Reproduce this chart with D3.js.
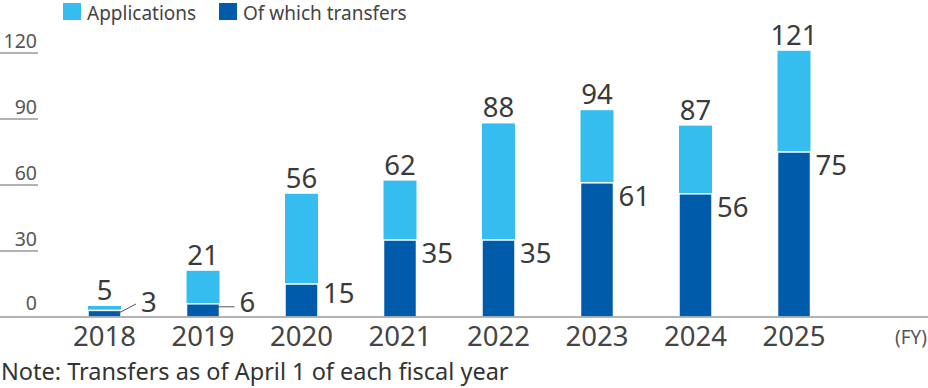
<html lang="en">
<head>
<meta charset="utf-8">
<title>Applications and transfers</title>
<script src="https://d3js.org/d3.v7.min.js"></script>
<style>
  body { margin: 0; background: #fff; }
  text { font-family: "Noto Sans", sans-serif; }
</style>
</head>
<body>
<div id="chart"></div>
<script>
// data
var years = ["2018", "2019", "2020", "2021", "2022", "2023", "2024", "2025"];
var applications = [5, 21, 56, 62, 88, 94, 87, 121];
var transfers = [3, 6, 15, 35, 35, 61, 56, 75];
var yTicks = [0, 30, 60, 90, 120];
var legendLabels = ["Applications", "Of which transfers"];

var W = 928, H = 388;
var lightBlue = "#36bdef", darkBlue = "#005bab";

var svg = d3.select("#chart").append("svg")
  .attr("width", W).attr("height", H);

var x = d3.scaleBand()
  .domain(years)
  .range([88, 88 + 7 * 98.5 + 33])
  .paddingInner(0.665)
  .paddingOuter(0);

var y = d3.scaleLinear()
  .domain([0, 120])
  .range([317, 53]);

// y ticks: short rules with labels above them
var yt = svg.append("g");
yt.selectAll("line").data(yTicks.filter(function(d) { return d > 0; }))
  .enter().append("line")
  .attr("x1", 0).attr("x2", 38)
  .attr("y1", function(d) { return y(d); })
  .attr("y2", function(d) { return y(d); })
  .attr("stroke", "#9a9a9a").attr("stroke-width", 1.5);
yt.selectAll("text").data(yTicks)
  .enter().append("text")
  .attr("x", 37)
  .attr("y", function(d) { return y(d) - (d === 0 ? 7 : 5); })
  .attr("text-anchor", "end")
  .attr("font-size", 19.5)
  .attr("fill", "#555")
  .text(function(d) { return d; });

// bars: total applications behind, transfers on top
var rows = years.map(function(yr, i) {
  return { year: yr, app: applications[i], tr: transfers[i], i: i };
});

svg.selectAll("rect.app").data(rows)
  .enter().append("rect")
  .attr("class", "app")
  .attr("x", function(d) { return x(d.year); })
  .attr("y", function(d) { return y(d.app); })
  .attr("width", x.bandwidth())
  .attr("height", function(d) { return y(0) - y(d.app); })
  .attr("fill", lightBlue);

svg.selectAll("rect.tr").data(rows)
  .enter().append("rect")
  .attr("class", "tr")
  .attr("x", function(d) { return x(d.year); })
  .attr("y", function(d) { return y(d.tr); })
  .attr("width", x.bandwidth())
  .attr("height", function(d) { return y(0) - y(d.tr); })
  .attr("fill", darkBlue)
  .attr("stroke", "#fff").attr("stroke-width", 1.5);

// baseline
svg.append("line")
  .attr("x1", 0).attr("x2", W)
  .attr("y1", y(0)).attr("y2", y(0))
  .attr("stroke", "#9a9a9a").attr("stroke-width", 1.5);

// application labels
svg.selectAll("text.appl").data(rows)
  .enter().append("text")
  .attr("x", function(d) { return x(d.year) + x.bandwidth() / 2; })
  .attr("y", function(d) { return y(d.app) - 6; })
  .attr("text-anchor", "middle")
  .attr("font-size", 27.5)
  .attr("fill", "#3a3a3a")
  .text(function(d) { return d.app; });

// transfer labels, with leader lines for the two small ones
function trX(d) { return x(d.year) + x.bandwidth() + (d.i < 2 ? 20 : 5); }
function trY(d) { return d.i < 2 ? y(0) - 5 : Math.min(y(d.tr) + 23, y(0) - 14); }

svg.selectAll("text.trl").data(rows)
  .enter().append("text")
  .attr("x", trX)
  .attr("y", trY)
  .attr("font-size", 27.5)
  .attr("fill", "#3a3a3a")
  .text(function(d) { return d.tr; });

svg.selectAll("line.lead").data(rows.slice(0, 2))
  .enter().append("line")
  .attr("x1", function(d) { return x(d.year) + x.bandwidth() - 3; })
  .attr("y1", function(d) { return y(d.tr) + 3; })
  .attr("x2", function(d) { return x(d.year) + x.bandwidth() + 15; })
  .attr("y2", function(d) { return d.i === 0 ? y(0) - 13 : y(d.tr) + 3; })
  .attr("stroke", "#555").attr("stroke-width", 1);

// x labels
svg.selectAll("text.xl").data(years)
  .enter().append("text")
  .attr("x", function(d) { return x(d) + x.bandwidth() / 2; })
  .attr("y", 346)
  .attr("text-anchor", "middle")
  .attr("font-size", 27.5)
  .attr("fill", "#444")
  .text(function(d) { return d; });

svg.append("text")
  .attr("x", 927).attr("y", 344)
  .attr("text-anchor", "end")
  .attr("font-size", 19)
  .attr("fill", "#555")
  .text("(FY)");

// legend
var lg = svg.append("g");
[0, 1].forEach(function(i) {
  var lx = i === 0 ? 63 : 219;
  lg.append("rect")
    .attr("x", lx).attr("y", 3)
    .attr("width", 18).attr("height", 17)
    .attr("fill", i === 0 ? lightBlue : darkBlue);
  lg.append("text")
    .attr("x", lx + 24).attr("y", 19.5)
    .attr("font-size", 19)
    .attr("fill", "#444")
    .text(legendLabels[i]);
});

// note
svg.append("text")
  .attr("x", 1).attr("y", 380)
  .attr("font-size", 23.5)
  .attr("fill", "#333")
  .text("Note: Transfers as of April 1 of each fiscal year");
</script>
</body>
</html>
